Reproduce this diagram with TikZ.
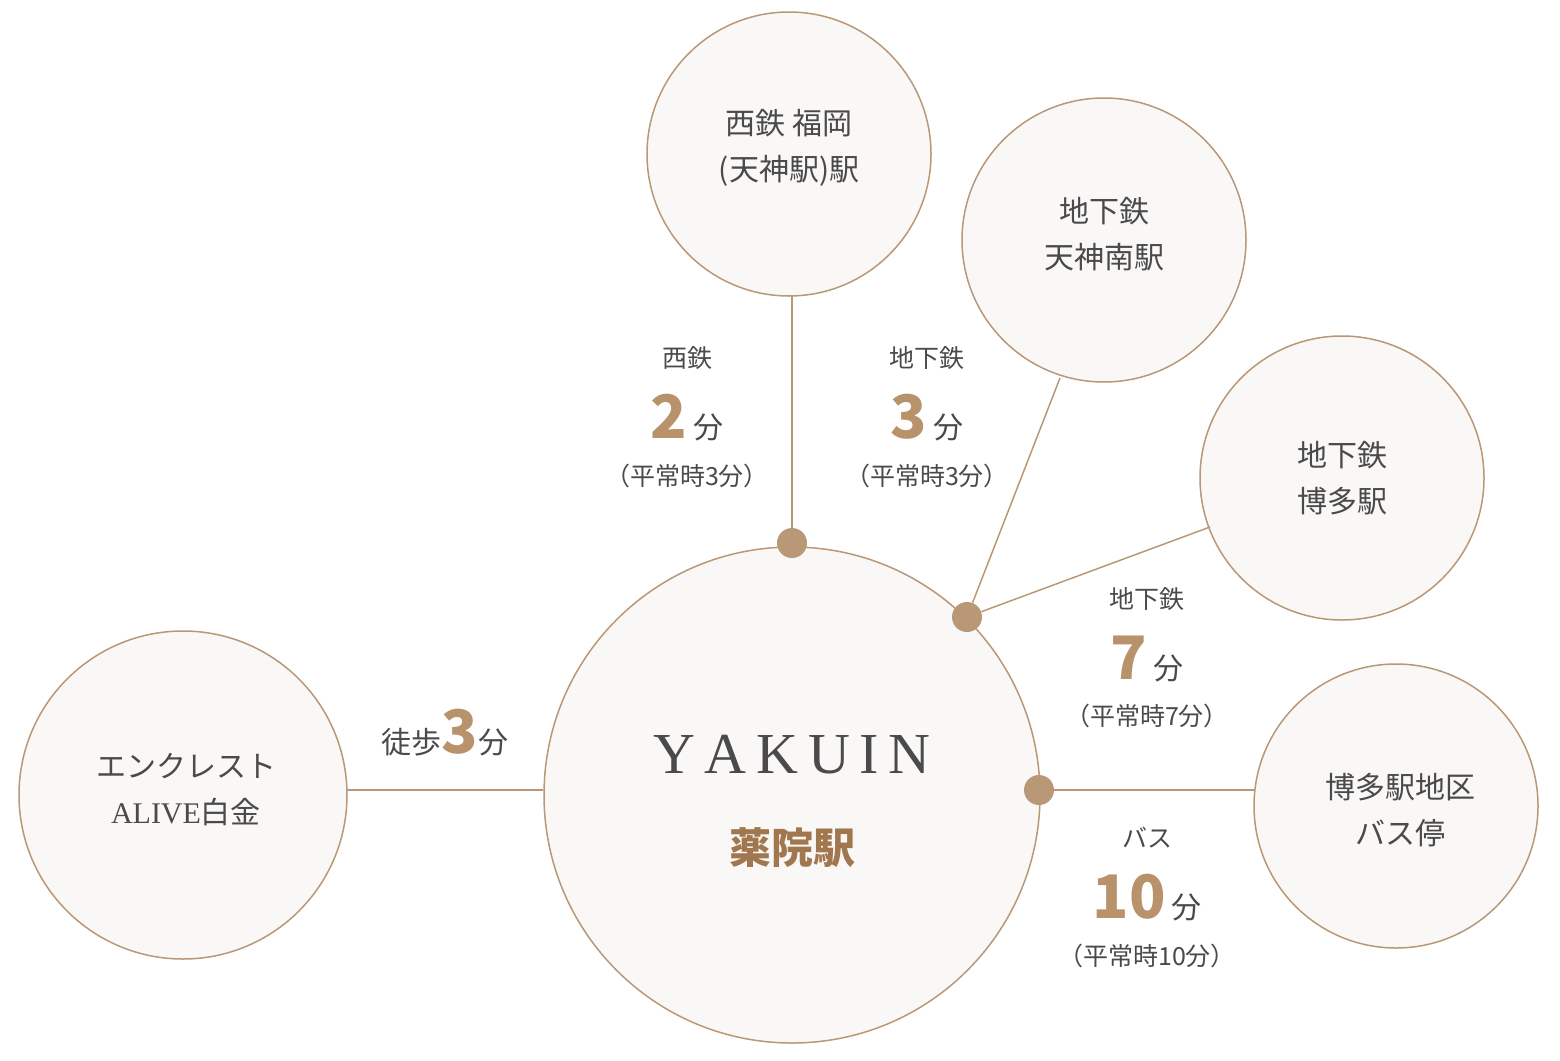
\documentclass[tikz,border=0pt]{standalone}
\usepackage{fontspec}
\setmainfont{Liberation Serif}
\newfontfamily\jp{Noto Sans CJK JP}
\definecolor{ln}{HTML}{B89877}
\definecolor{fl}{HTML}{FAF8F6}
\definecolor{tx}{HTML}{4A4A4A}
\definecolor{num}{HTML}{B8926A}
\definecolor{sta}{HTML}{A0774E}
\tikzset{
 stn/.style={circle,draw=ln,line width=1.5pt,fill=fl,inner sep=0pt},
 conn/.style={ln,line width=1.5pt},
 dotn/.style={circle,fill=ln,minimum size=30pt,inner sep=0pt},
 lab/.style={text=tx,font=\jp\fontsize{30}{46}\selectfont,align=center},
 sm/.style={text=tx,font=\jp\fontsize{25}{30}\selectfont,align=center},
}
\newcommand{\bignum}[1]{{\color{num}\fontsize{60}{60}\selectfont\bfseries #1}}
\begin{document}
\begin{tikzpicture}[x=1pt,y=-1pt]
\useasboundingbox (0,0) rectangle (1560,1060);
\node[stn,minimum size=496pt] (m) at (792,795) {};
\node[stn,minimum size=328pt] (l) at (183,795) {};
\node[stn,minimum size=284pt] (t) at (789,154) {};
\node[stn,minimum size=284pt] (tm) at (1104,240) {};
\node[stn,minimum size=284pt] (h) at (1342,478) {};
\node[stn,minimum size=284pt] (b) at (1396,806) {};
\node[dotn] (d1) at (792,543) {};
\node[dotn] (d2) at (967,617) {};
\node[dotn] (d3) at (1039,790) {};
\coordinate (tb) at (792,296);
\coordinate (lr) at (347,790);
\coordinate (ml) at (543,790);
\coordinate (tmb) at (1060,378);
\coordinate (hb) at (1210,527);
\coordinate (bl) at (1255,790);
\draw[conn] (tb) -- (d1);
\draw[conn] (d2) -- (tmb);
\draw[conn] (d2) -- (hb);
\draw[conn] (d3) -- (bl);
\draw[conn] (lr) -- (ml);
\node[lab] at (789,148) {西鉄 福岡\\(天神駅)駅};
\node[lab] at (1104,234) {地下鉄\\天神南駅};
\node[lab] at (1342,478) {地下鉄\\博多駅};
\node[lab] at (1400,810) {博多駅地区\\バス停};
\node[lab] at (186,790) {エンクレスト\\{\fontspec{Liberation Serif}ALIVE}白金};
\node[text=tx,font=\fontsize{58}{60}\selectfont] at (792,755) {Y\,A\,K\,U\,I\,N};
\node[text=sta,font=\jp\bfseries\fontsize{42}{44}\selectfont] at (792,848) {薬院駅};
\node[sm] at (687,358) {西鉄};
\node[sm] at (687,418) {\bignum{2} {\fontsize{30}{30}\selectfont 分}};
\node[sm] at (687,476) {（平常時3分）};
\node[sm] at (927,358) {地下鉄};
\node[sm] at (927,418) {\bignum{3} {\fontsize{30}{30}\selectfont 分}};
\node[sm] at (927,476) {（平常時3分）};
\node[sm] at (1147,599) {地下鉄};
\node[sm] at (1147,659) {\bignum{7} {\fontsize{30}{30}\selectfont 分}};
\node[sm] at (1147,716) {（平常時7分）};
\node[sm] at (1147,838) {バス};
\node[sm] at (1147,898) {\bignum{10} {\fontsize{30}{30}\selectfont 分}};
\node[sm] at (1147,956) {（平常時10分）};
\node[sm,font=\jp\fontsize{30}{30}\selectfont] at (445,733) {徒歩\bignum{3}分};
\end{tikzpicture}
\end{document}
